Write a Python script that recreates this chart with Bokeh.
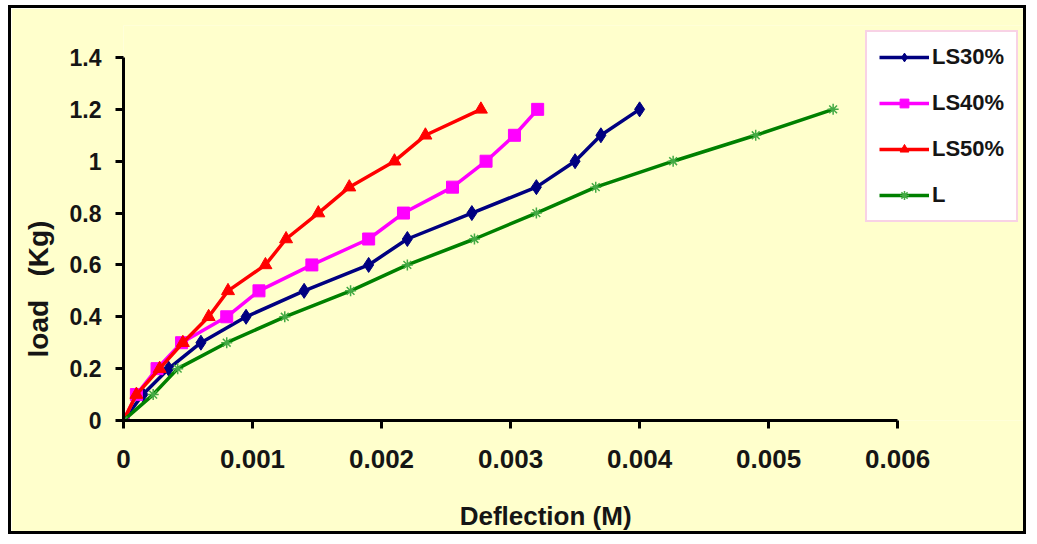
from bokeh.plotting import figure
from bokeh.models import FixedTicker, Legend, LegendItem, Title, Range1d
from bokeh.embed import file_html
from bokeh.resources import INLINE

# ---- data ----
ls30_x = [0, 0.00015, 0.00035, 0.0006, 0.00095, 0.0014, 0.0019, 0.0022, 0.0027, 0.0032, 0.0035, 0.0037, 0.0040]
ls30_y = [0, 0.1, 0.2, 0.3, 0.4, 0.5, 0.6, 0.7, 0.8, 0.9, 1.0, 1.1, 1.2]

ls40_x = [0, 0.0001, 0.00026, 0.00045, 0.0008, 0.00105, 0.00146, 0.0019, 0.00217, 0.00255, 0.00281, 0.00303, 0.00321]
ls40_y = [0, 0.1, 0.2, 0.3, 0.4, 0.5, 0.6, 0.7, 0.8, 0.9, 1.0, 1.1, 1.2]

ls50_x = [0, 0.0001, 0.00028, 0.00046, 0.00066, 0.00081, 0.0011, 0.00126, 0.00151, 0.00175, 0.0021, 0.00234, 0.00277]
ls50_y = [0, 0.1, 0.2, 0.3, 0.4, 0.5, 0.6, 0.7, 0.8, 0.9, 1.0, 1.1, 1.2]

l_x = [0, 0.00023, 0.00042, 0.0008, 0.00125, 0.00176, 0.0022, 0.00272, 0.0032, 0.00366, 0.00426, 0.0049, 0.0055]
l_y = [0, 0.1, 0.2, 0.3, 0.4, 0.5, 0.6, 0.7, 0.8, 0.9, 1.0, 1.1, 1.2]

series_names = ["LS30%", "LS40%", "LS50%", "L"]

x_ticks = [0, 0.001, 0.002, 0.003, 0.004, 0.005, 0.006]
x_tick_labels = ["0", "0.001", "0.002", "0.003", "0.004", "0.005", "0.006"]
y_ticks = [0, 0.2, 0.4, 0.6, 0.8, 1.0, 1.2, 1.4]
y_tick_labels = ["0", "0.2", "0.4", "0.6", "0.8", "1", "1.2", "1.4"]

x_title = "Deflection (M)"
y_title = "load\u00a0\u00a0\u00a0(Kg)"

BG = "#FFFFCC"
FONT = "Liberation Sans"
NBSP = "\u00a0"

# frame spans a little beyond the axes so the legend is not clipped
X_END = 0.006 * 903 / 775
Y_END = 1.4 * 395 / 363

p = figure(
    width=1018, height=529,
    output_backend="svg", toolbar_location=None,
    x_range=Range1d(0, X_END), y_range=Range1d(0, Y_END),
    min_border_left=111, min_border_right=4,
    min_border_top=17, min_border_bottom=117,
    background_fill_color=BG, border_fill_color=BG,
)
p.styles = {"border": "3px solid black", "margin-left": "8px", "margin-top": "5px"}
p.outline_line_color = None
p.grid.visible = False

# axes
for ax in (p.xaxis[0], p.yaxis[0]):
    ax.axis_line_color = "black"
    ax.axis_line_width = 3
    ax.major_tick_line_color = "black"
    ax.major_tick_line_width = 3
    ax.major_tick_in = 0
    ax.major_tick_out = 8
    ax.minor_tick_line_color = None
    ax.major_label_text_font = FONT
    ax.major_label_text_font_style = "bold"
    ax.major_label_text_color = "#151515"

p.xaxis.bounds = (x_ticks[0], x_ticks[-1])
p.xaxis.ticker = FixedTicker(ticks=x_ticks)
p.xaxis.major_label_overrides = dict(zip(x_ticks, x_tick_labels))
p.xaxis.major_label_text_font_size = "26px"
p.xaxis.major_label_standoff = 21
# x title: axis label (centred on the frame, trailing no-break spaces shift it left)
p.xaxis.axis_label = x_title + NBSP * 8
p.xaxis.axis_label_text_font = FONT
p.xaxis.axis_label_text_font_style = "bold"
p.xaxis.axis_label_text_font_size = "26px"
p.xaxis.axis_label_text_color = "#151515"
p.xaxis.axis_label_standoff = 30

p.yaxis.bounds = (y_ticks[0], y_ticks[-1])
p.yaxis.ticker = FixedTicker(ticks=y_ticks)
p.yaxis.major_label_overrides = dict(zip(y_ticks, y_tick_labels))
p.yaxis.major_label_text_font_size = "23px"
p.yaxis.major_label_standoff = 14

# series
styles = [
    (ls30_x, ls30_y, "#000080", "diamond", 15),
    (ls40_x, ls40_y, "#FF00FF", "square", 12),
    (ls50_x, ls50_y, "#FF0000", "triangle", 13),
    (l_x, l_y, "#008000", "asterisk", 11),
]
items = []
for name, (xs, ys, col, mk, sz) in zip(series_names, styles):
    ln = p.line(xs, ys, line_color=col, line_width=3.5)
    if mk == "asterisk":
        sc = p.scatter(xs, ys, marker=mk, size=sz, line_color="#44AA44", line_width=1.5)
    else:
        sc = p.scatter(xs, ys, marker=mk, size=sz, fill_color=col, line_color=col)
    items.append(LegendItem(label=name, renderers=[ln, sc]))

legend = Legend(
    items=items, location=(742, 198),
    background_fill_color="white", background_fill_alpha=1.0,
    border_line_color="#F2A6CC", border_line_width=2,
    label_text_font=FONT, label_text_font_style="bold",
    label_text_font_size="22px", label_text_color="#151515",
    glyph_width=50, glyph_height=22, label_height=22,
    spacing=20, padding=12, margin=0, label_standoff=3,
)
p.add_layout(legend)

# y title as a side-panel title, offset up from the frame bottom
p.add_layout(Title(text=y_title, align="left", vertical_align="top", offset=63, standoff=22,
                   text_font=FONT, text_font_style="bold", text_font_size="28px",
                   text_color="#151515"), "left")

open("out.html", "w").write(file_html(p, INLINE))
